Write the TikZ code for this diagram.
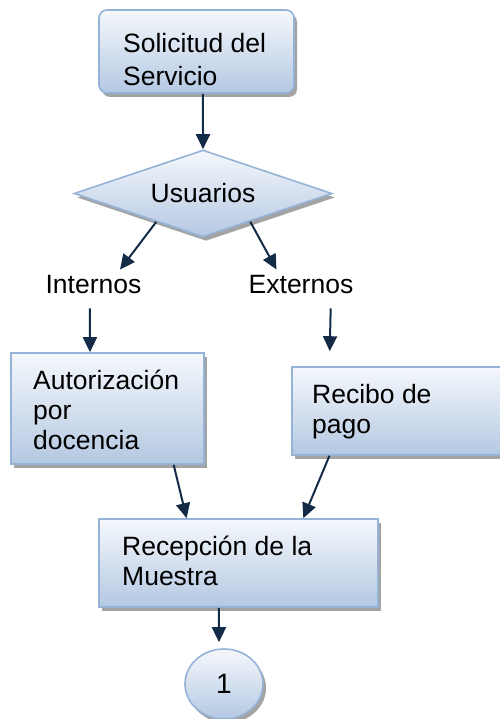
\documentclass[tikz,border=0pt]{standalone}
\usepackage{fontspec}
\setmainfont{Liberation Sans}
\usetikzlibrary{shapes.geometric,arrows.meta,shadows,calc}
\definecolor{bord}{HTML}{95B3D7}
\definecolor{topc}{HTML}{F5F8FC}
\definecolor{botc}{HTML}{B4C8E2}
\definecolor{arrc}{HTML}{142B48}
\definecolor{shad}{HTML}{A3A3A3}
\begin{document}
\begin{tikzpicture}[x=1pt,y=-1pt,
  every node/.style={font=\fontsize{26.5}{30}\selectfont},
  shp/.style={draw=bord, line width=1.6pt, top color=topc, bottom color=botc,
    inner sep=0pt,
    drop shadow={shadow xshift=3pt, shadow yshift=-4pt, fill=shad, opacity=1}},
  txt/.style={anchor=north west, inner sep=0pt, align=left},
  lbl/.style={anchor=base, inner sep=5pt},
  arr/.style={draw=arrc, line width=2pt, -{Triangle[length=15pt,width=14pt]}}]
\useasboundingbox (0,0) rectangle (499,719);
% shapes
\node[shp, rectangle, rounded corners=8pt, minimum width=195pt, minimum height=83pt] (s) at (196.5,51.5) {};
\node[txt] (st) at (123,31) {\strut Solicitud del\\[3pt]Servicio};
\node[shp, diamond, aspect=3, minimum width=258pt, minimum height=87pt] (u) at (203,193.5) {Usuarios};
\node[lbl] (i) at (93.5,293) {Internos};
\node[lbl] (e) at (301,293) {Externos};
\node[shp, rectangle, minimum width=193pt, minimum height=111pt] (a) at (107.5,408.5) {};
\node[txt] (at) at (33,368) {\strut Autorización\\por\\docencia};
\node[shp, rectangle, minimum width=218pt, minimum height=88pt] (r) at (401,411) {};
\node[txt] (rt) at (312,382) {\strut Recibo de\\pago};
\node[shp, rectangle, minimum width=279pt, minimum height=88pt] (m) at (238.5,563) {};
\node[txt] (mt) at (122,534) {\strut Recepción de la\\Muestra};
\node[shp, ellipse, minimum width=78pt, minimum height=70pt, font=\fontsize{28}{30}\selectfont] (c) at (224,684) {1};
% connectors
\draw[arr] ($(s.south west)!0.533!(s.south east)$) -- (u.north);
\draw[arr] ($(u.west)!0.64!(u.south)$) -- ($(i.north west)!0.75!(i.north east)$);
\draw[arr] ($(u.south)!0.364!(u.east)$) -- ($(e.north west)!0.287!(e.north east)$);
\draw[arr, shorten <=10pt] ($(i.south west)!0.465!(i.south east)$) -- ($(a.north west)!0.41!(a.north east)$);
\draw[arr, shorten <=10pt, shorten >=15pt] ($(e.south west)!0.76!(e.south east)$) -- ($(r.north west)!0.174!(r.north east)$);
\draw[arr] ($(a.south west)!0.84!(a.south east)$) -- ($(m.north west)!0.315!(m.north east)$);
\draw[arr] ($(r.south west)!0.174!(r.south east)$) -- ($(m.north west)!0.731!(m.north east)$);
\draw[arr, shorten >=6pt] ($(m.south west)!0.43!(m.south east)$) -- ([xshift=-5pt]c.north);
\end{tikzpicture}
\end{document}
